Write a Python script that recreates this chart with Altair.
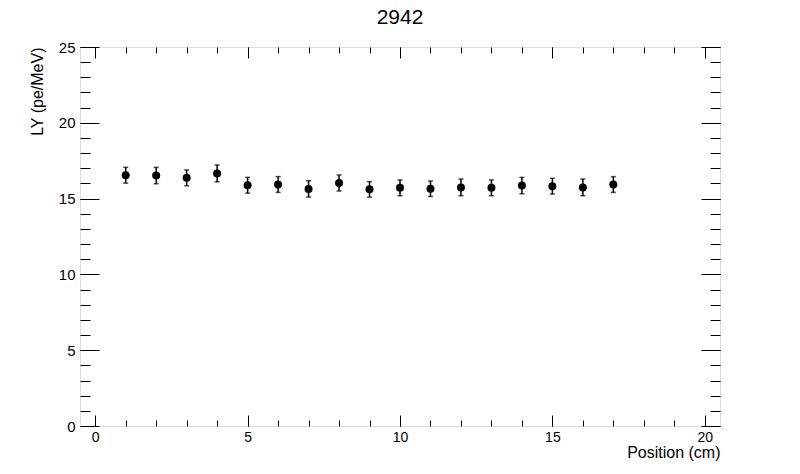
import altair as alt
import pandas as pd

# Data
positions = [1, 2, 3, 4, 5, 6, 7, 8, 9, 10, 11, 12, 13, 14, 15, 16, 17]
ly = [16.54, 16.52, 16.37, 16.66, 15.88, 15.93, 15.64, 16.03, 15.61,
      15.71, 15.65, 15.74, 15.71, 15.86, 15.82, 15.74, 15.93]
err = [0.52, 0.54, 0.52, 0.56, 0.52, 0.52, 0.54, 0.53, 0.51,
       0.52, 0.51, 0.55, 0.52, 0.54, 0.52, 0.55, 0.52]

major_x = [0, 5, 10, 15, 20]
minor_x = list(range(0, 21))
major_y = [0, 5, 10, 15, 20, 25]
minor_y = list(range(0, 26))

df = pd.DataFrame({"pos": positions, "ly": ly, "err": err})
df["lo"] = df["ly"] - df["err"]
df["hi"] = df["ly"] + df["err"]
caps = pd.DataFrame({"pos": positions * 2, "yc": list(df["lo"]) + list(df["hi"])})

FONT = "Liberation Sans"
xs = alt.Scale(domain=[-0.5, 20.5], nice=False, zero=False)
ys = alt.Scale(domain=[0, 25], nice=False, zero=False)


def tick_axis(orient, values, size):
    return alt.Axis(orient=orient, values=values, tickSize=size, offset=-size,
                    labels=False, domain=False, grid=False, title=None,
                    ticks=True, tickColor="black", tickWidth=1)


label_x = alt.Axis(orient="bottom", values=major_x, ticks=False, tickSize=0,
                   domain=False, grid=False, labelFontSize=14, labelPadding=4,
                   labelFont=FONT, labelColor="black",
                   title="Position (cm)", titleFont=FONT, titleFontSize=16,
                   titleFontWeight="normal", titleColor="black",
                   titleAlign="right", titleX=640, titleY=31,
                   titleBaseline="alphabetic")
label_y = alt.Axis(orient="left", values=major_y, ticks=False, tickSize=0,
                   domain=False, grid=False, labelFontSize=15, labelPadding=5,
                   labelFont=FONT, labelColor="black",
                   title="LY (pe/MeV)", titleFont=FONT, titleFontSize=16,
                   titleFontWeight="normal", titleColor="black",
                   titleAngle=270, titleAlign="right", titleX=-38, titleY=0,
                   titleBaseline="alphabetic")

bars = alt.Chart(df).mark_rule(color="black", strokeWidth=1.5).encode(
    x=alt.X("pos:Q", scale=xs, axis=tick_axis("bottom", major_x, 11)),
    y=alt.Y("lo:Q", scale=ys, axis=tick_axis("left", major_y, 19)),
    y2="hi:Q",
)
cap_marks = alt.Chart(caps).mark_tick(orient="horizontal", size=5, thickness=1.5,
                                      color="black").encode(
    x=alt.X("pos:Q", scale=xs, axis=tick_axis("bottom", minor_x, 6)),
    y=alt.Y("yc:Q", scale=ys, axis=tick_axis("left", minor_y, 10)),
)
points = alt.Chart(df).mark_point(filled=True, shape="circle", size=64,
                                  color="black", opacity=1).encode(
    x=alt.X("pos:Q", scale=xs, axis=label_x),
    y=alt.Y("ly:Q", scale=ys, axis=label_y),
)
mirror_major = alt.Chart(df).mark_point(opacity=0).encode(
    x=alt.X("pos:Q", scale=xs, axis=tick_axis("top", major_x, 11)),
    y=alt.Y("ly:Q", scale=ys, axis=tick_axis("right", major_y, 19)),
)
mirror_minor = alt.Chart(df).mark_point(opacity=0).encode(
    x=alt.X("pos:Q", scale=xs, axis=tick_axis("top", minor_x, 6)),
    y=alt.Y("ly:Q", scale=ys, axis=tick_axis("right", minor_y, 10)),
)

chart = (
    alt.layer(bars, cap_marks, points, mirror_major, mirror_minor)
    .resolve_axis(x="independent", y="independent")
    .properties(
        width=640, height=379,
        padding={"left": 72, "top": 39, "right": 72, "bottom": 40},
        autosize=alt.AutoSizeParams(type="none"),
        title=alt.TitleParams(text="2942", fontSize=21, font=FONT,
                              fontWeight="normal", anchor="middle", offset=0,
                              dy=5, baseline="alphabetic", color="black"),
    )
    .configure_view(stroke="black", strokeWidth=1)
    .configure(background="white")
)

chart.save("out.html", embed_options={"renderer": "svg", "actions": False})
